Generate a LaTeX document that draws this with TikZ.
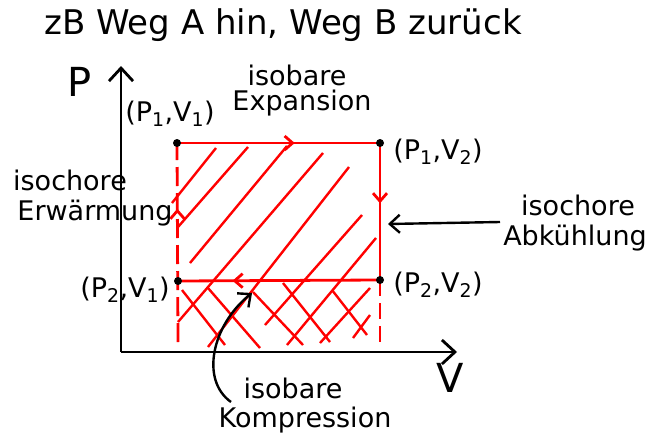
\documentclass[tikz,border=0pt]{standalone}
\usepackage{fontspec}
\setmainfont{DejaVu Sans}
\usetikzlibrary{arrows.meta, positioning, calc, decorations.markings}
\definecolor{penred}{RGB}{255, 0, 0}
\definecolor{penblack}{RGB}{0, 0, 0}

\tikzset{
	hand/.style={font=\fontsize{27}{31}\selectfont, inner sep=0pt, text=penblack},
	bighand/.style={font=\fontsize{34}{38}\selectfont, inner sep=0pt, text=penblack},
	axislab/.style={font=\fontsize{40}{44}\selectfont, inner sep=0pt, text=penblack},
	axis/.style={penblack, line width=2.8pt, -{Straight Barb[length=13pt, width=24pt]}},
	cycle/.style={penred, line width=2.8pt},
	hatch/.style={penred, line width=2.4pt},
	midtip/.style={postaction={decorate}, decoration={markings,
			mark=at position #1 with {\arrow{Straight Barb[length=8pt, width=14pt]}}}},
	pointer/.style={penblack, line width=2.4pt, -{Straight Barb[length=10pt, width=18pt]}}
}

\begin{document}
\begin{tikzpicture}[x=1pt, y=-1pt]
	\useasboundingbox (0,0) rectangle (650,447);

	\node[bighand] (title) at (283,25) {zB Weg A hin, Weg B zurück};

	\coordinate (origin) at (121,352);
	\coordinate (ptip) at (121,66);
	\coordinate (vtip) at (457,352);
	\draw[axis] (origin) -- (ptip);
	\draw[axis] (origin) -- (vtip);
	\node[axislab] (plab) at (80,82) {P};
	\node[axislab] (vlab) at (450,378) {V};

	\coordinate (tl) at (177,143);
	\coordinate (tr) at (380,143);
	\coordinate (bl) at (178,281);
	\coordinate (br) at (380,280);
	\coordinate (lfoot) at (178,342);
	\coordinate (rfoot) at (380,342);

	\foreach \ax/\ay/\bx/\by in {172/203/216/148, 178/227/248/147, 190/263/287/146,
			178/322/323/153, 208/347/349/167, 265/325/362/215, 287/345/376/238,
			320/343/370/288, 353/338/370/315}{
		\draw[hatch] (\ax,\ay) -- (\bx,\by);
	}
	\foreach \ax/\ay/\bx/\by in {182/290/225/345, 208/288/260/348, 253/292/303/345,
			283/283/330/342, 332/290/367/335}{
		\draw[hatch] (\ax,\ay) -- (\bx,\by);
	}

	\draw[cycle, midtip=0.58] (tl) -- (tr);
	\draw[cycle, midtip=0.44] (tr) -- (br);
	\draw[cycle, midtip=0.73] (br) -- (bl);
	\draw[cycle, dash pattern=on 19pt off 7pt, midtip=0.67] (lfoot) -- (tl);
	\draw[cycle, dash pattern=on 16pt off 7pt] (br) -- (rfoot);

	\foreach \c in {tl, tr, bl, br}{
		\fill[penblack] (\c) circle (4pt);
	}

	\node[hand] (isoTop) at (297,75) {isobare};
	\node[hand] (expansion) at (302,103) {Expansion};
	\node[hand] (pOneVOne) at (170,114) {(P\textsubscript{1},V\textsubscript{1})};
	\node[hand] (pOneVTwo) at (438,152) {(P\textsubscript{1},V\textsubscript{2})};
	\node[hand] (pTwoVOne) at (125,290) {(P\textsubscript{2},V\textsubscript{1})};
	\node[hand] (pTwoVTwo) at (438,285) {(P\textsubscript{2},V\textsubscript{2})};

	\node[hand] (isoLeft) at (70,180) {isochore};
	\node[hand] (erwaermung) at (95,213) {Erwärmung};

	\node[hand] (isoRight) at (578,205) {isochore};
	\node[hand] (abkuehlung) at (575,238) {Abkühlung};
	\coordinate (abkStart) at (500,222);
	\coordinate (abkEnd) at (388,224);
	\draw[pointer] (abkStart) -- (abkEnd);

	\node[hand] (isoBottom) at (293,388) {isobare};
	\node[hand] (kompression) at (305,420) {Kompression};
	\coordinate (kompStart) at (231,402);
	\coordinate (kompEnd) at (252,293);
	\draw[pointer] (kompStart) .. controls (200,380) and (212,325) .. (kompEnd);
\end{tikzpicture}
\end{document}
